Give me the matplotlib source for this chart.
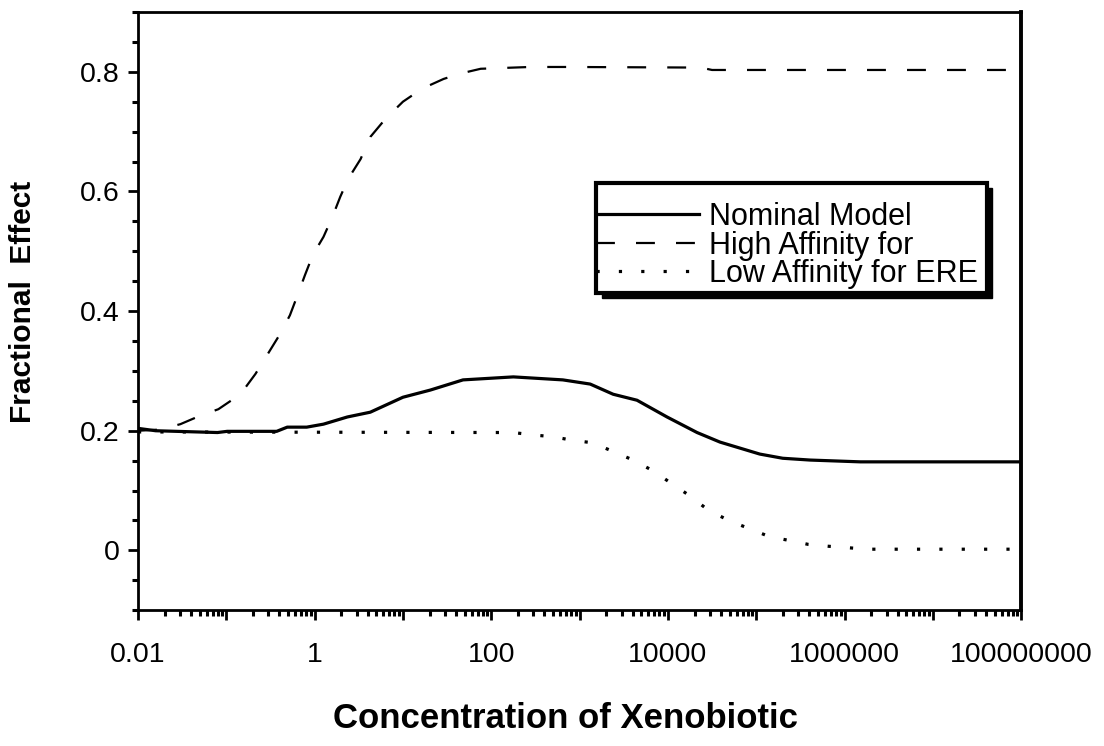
import matplotlib
matplotlib.use("Agg")
import matplotlib.pyplot as plt
import numpy as np
from matplotlib.patches import Rectangle
from matplotlib.ticker import FixedLocator, LogLocator, MultipleLocator, NullFormatter

plt.rcParams['font.family'] = ['Liberation Sans', 'DejaVu Sans']

# log10 of concentration
nominal_logx = [-2.0, -1.8, -1.1, -0.99, -0.43, -0.31, -0.09, 0.10, 0.37, 0.63, 1.0,
                1.31, 1.68, 2.25, 2.81, 3.12, 3.38, 3.65, 3.99, 4.33, 4.59, 5.04,
                5.30, 5.61, 6.18, 8.0]
nominal_y = [0.204, 0.200, 0.197, 0.199, 0.199, 0.206, 0.206, 0.211, 0.223, 0.231, 0.256,
             0.268, 0.285, 0.290, 0.285, 0.278, 0.261, 0.251, 0.223, 0.197, 0.181, 0.161,
             0.154, 0.151, 0.148, 0.148]

high_logx = [-2.0, -1.75, -1.52, -1.33, -1.09, -0.84, -0.67, -0.54, -0.39, -0.28, -0.19,
             -0.11, -0.02, 0.10, 0.20, 0.29, 0.38, 0.52, 0.63, 0.80, 1.0, 1.22, 1.46,
             1.65, 1.88, 2.44, 2.90, 4.37, 4.50, 8.0]
high_y = [0.200, 0.202, 0.211, 0.223, 0.236, 0.261, 0.295, 0.326, 0.362, 0.393, 0.428,
          0.460, 0.494, 0.524, 0.557, 0.591, 0.621, 0.654, 0.691, 0.721, 0.750, 0.772, 0.788,
          0.797, 0.805, 0.808, 0.808, 0.807, 0.803, 0.803]

low_logx = [-2.0, 2.25, 2.47, 2.70, 2.92, 3.14, 3.37, 3.59, 3.82, 4.02, 4.24, 4.46,
            4.69, 4.91, 5.15, 5.36, 5.59, 5.81, 6.26, 8.0]
low_y = [0.198, 0.197, 0.193, 0.190, 0.184, 0.180, 0.166, 0.152, 0.134, 0.114, 0.092, 0.067,
         0.050, 0.037, 0.023, 0.017, 0.010, 0.007, 0.002, 0.002]

labels = ['Nominal Model', 'High Affinity for', 'Low Affinity for ERE']
xtick_pos = [1e-2, 1e-1, 1e0, 1e1, 1e2, 1e3, 1e4, 1e5, 1e6, 1e7, 1e8]
xtick_text = ['0.01', '', '1', '', '100', '', '10000', '', '1000000', '', '100000000']
ytick_pos = [0, 0.2, 0.4, 0.6, 0.8]
ytick_text = ['0', '0.2', '0.4', '0.6', '0.8']

fig = plt.figure(figsize=(11.04, 7.46), dpi=100)
ax = fig.add_axes([0.125, 0.182, 0.800, 0.802])

ax.plot(10 ** np.array(nominal_logx), nominal_y, color='black', lw=2.3, label=labels[0])
ax.plot(10 ** np.array(high_logx), high_y, color='black', lw=1.6,
        linestyle=(0, (8.5, 9.5)), label=labels[1])
ax.plot(10 ** np.array(low_logx), low_y, color='black', lw=2.3,
        linestyle=(0, (1, 6)), label=labels[2])

ax.set_xscale('log')
ax.set_xlim(1e-2, 1e8)
ax.set_ylim(-0.1, 0.9)

ax.xaxis.set_major_locator(FixedLocator(xtick_pos))
ax.set_xticklabels(xtick_text)
ax.xaxis.set_minor_locator(LogLocator(base=10, subs=np.arange(2, 10), numticks=100))
ax.xaxis.set_minor_formatter(NullFormatter())
ax.set_yticks(ytick_pos)
ax.set_yticklabels(ytick_text)
ax.yaxis.set_minor_locator(MultipleLocator(0.05))

ax.tick_params(axis='both', which='major', direction='out', length=7, width=2,
               labelsize=20.5, top=False, right=False)
ax.tick_params(axis='both', which='minor', direction='out', length=4, width=2.2,
               top=False, right=False)
ax.tick_params(axis='x', which='major', pad=16)
ax.tick_params(axis='y', which='major', pad=6)

for side in ['left', 'bottom', 'top']:
    ax.spines[side].set_linewidth(2)
ax.spines['right'].set_linewidth(2.8)

ax.set_xlabel('Concentration of Xenobiotic', fontsize=25, fontweight='bold')
ax.set_ylabel('Fractional  Effect', fontsize=21.5, fontweight='bold')
ax.xaxis.set_label_coords(0.484, -0.153)
ax.yaxis.set_label_coords(-0.114, 0.515)

# legend box with shadow, drawn by hand so the text can spill past the border
shadow = Rectangle((0.525, 0.522), 0.442, 0.184, transform=ax.transAxes,
                   facecolor='black', edgecolor='black', zorder=4)
box = Rectangle((0.519, 0.530), 0.442, 0.184, transform=ax.transAxes,
                facecolor='white', edgecolor='black', lw=3, zorder=5)
ax.add_patch(shadow)
ax.add_patch(box)
leg = ax.legend(loc='upper left', bbox_to_anchor=(0.519, 0.682), frameon=False,
                fontsize=22, handlelength=3.35, handletextpad=0.33, labelspacing=-0.05,
                borderaxespad=0, borderpad=0)
leg.set_zorder(6)

fig.savefig('out.png', dpi=100)
